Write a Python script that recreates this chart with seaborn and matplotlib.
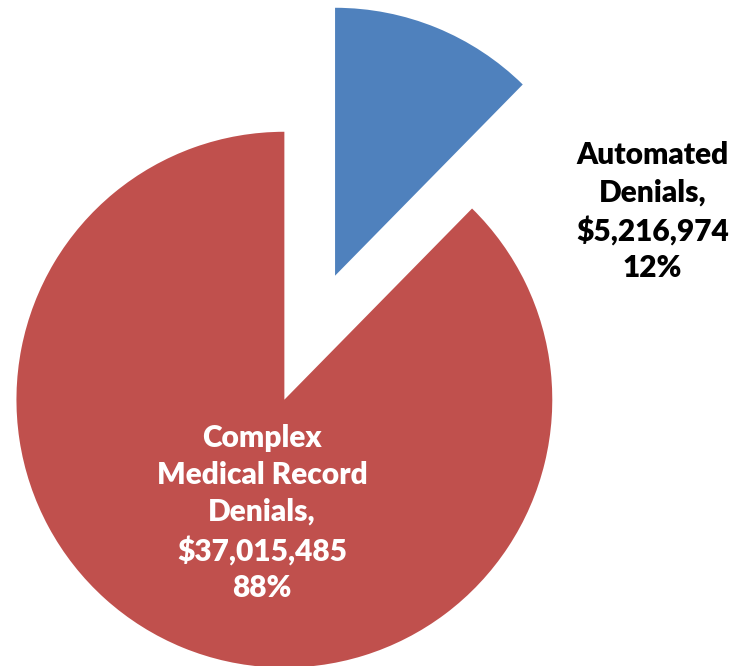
import numpy as np
import matplotlib
matplotlib.use("Agg")
import matplotlib.pyplot as plt
import seaborn as sns

# data
categories = ["Automated\nDenials,", "Complex\nMedical Record\nDenials,"]
amounts = [5216974, 37015485]
pcts = ["12%", "88%"]
colors = ["#4F81BD", "#C0504D"]
explode = [0.25, 0.25]

sns.set_theme(style="white")
plt.rcParams['font.family'] = ['Lato', 'DejaVu Sans']

fig = plt.figure(figsize=(7.29, 6.66), dpi=100)
ax = fig.add_axes([0, 0, 1, 1])

wedges, _ = ax.pie(amounts, colors=colors, explode=explode, startangle=90,
                   counterclock=False, radius=1.0,
                   wedgeprops=dict(linewidth=0, edgecolor="none"))

labels = [f"{c}\n${a:,}\n{p}" for c, a, p in zip(categories, amounts, pcts)]
ax.text(1.28, 0.47, labels[0], ha="center", va="center", fontsize=21.5,
        fontweight="heavy", color="black", linespacing=1.38)
ax.text(-0.178, -0.655, labels[1], ha="center", va="center", fontsize=21.5,
        fontweight="heavy", color="white", linespacing=1.38)

ax.set_xlim(-1.156, 1.565)
ax.set_ylim(-1.225, 1.260)
ax.set_aspect("equal")
ax.axis("off")

plt.savefig("out.png", dpi=100)
